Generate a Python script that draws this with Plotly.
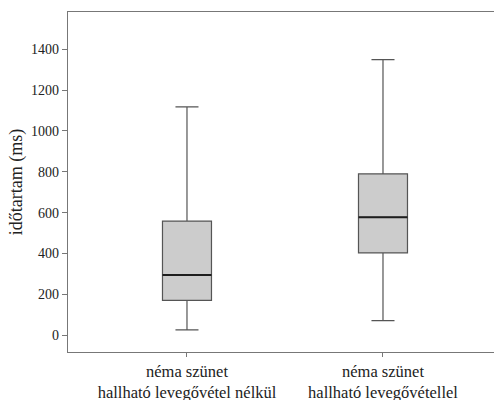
import plotly.graph_objects as go

categories = ["néma szünet<br>hallható levegővétel nélkül", "néma szünet<br>hallható levegővétellel"]
lower_whisker = [26, 72]
q1 = [171, 403]
median = [295, 577]
q3 = [559, 790]
upper_whisker = [1118, 1349]
y_ticks = [0, 200, 400, 600, 800, 1000, 1200, 1400]

SERIF = "'Liberation Serif', 'Times New Roman', Tinos, 'DejaVu Serif', serif"

fig = go.Figure()
fig.add_trace(go.Box(
    x=categories,
    q1=q1, median=median, q3=q3,
    lowerfence=lower_whisker, upperfence=upper_whisker,
    fillcolor="#cccccc",
    line=dict(color="#555555", width=1.2),
    width=0.25,
    whiskerwidth=0.47,
    boxpoints=False,
    showlegend=False,
    hoverinfo="skip",
))
# darker median line drawn on top from the same median values
fig.add_trace(go.Box(
    x=categories,
    q1=median, median=median, q3=median,
    lowerfence=median, upperfence=median,
    fillcolor="rgba(0,0,0,0)",
    line=dict(color="#1e1e1e", width=2),
    width=0.25,
    whiskerwidth=0.0,
    boxpoints=False,
    showlegend=False,
    hoverinfo="skip",
))

fig.update_layout(
    width=520, height=400,
    margin=dict(l=68, r=0, t=12, b=48),
    paper_bgcolor="white", plot_bgcolor="white",
    font=dict(family=SERIF, size=14, color="#222222"),
    boxmode="overlay",
    modebar=dict(bgcolor="rgba(0,0,0,0)", color="rgba(0,0,0,0)", activecolor="rgba(0,0,0,0)"),
)
fig.update_xaxes(
    type="category",
    range=[-0.607, 1.699],
    showline=True, linecolor="#777777", linewidth=1.3, mirror=True,
    ticks="outside", ticklen=4, tickcolor="#777777",
    showgrid=False, zeroline=False, automargin=False,
    tickfont=dict(family=SERIF, size=16.5),
)
fig.update_yaxes(
    range=[-82, 1582],
    tickvals=y_ticks,
    showline=True, linecolor="#777777", linewidth=1.3,
    ticks="outside", ticklen=5, tickcolor="#777777",
    showgrid=False, zeroline=False, automargin=False,
    title=dict(text="időtartam (ms)", font=dict(family=SERIF, size=18), standoff=3),
    tickfont=dict(family=SERIF, size=14),
)

fig.write_html(
    "out.html",
    post_script="document.documentElement.style.overflow='hidden';document.body.style.margin='0';document.body.style.overflow='hidden';",
)
